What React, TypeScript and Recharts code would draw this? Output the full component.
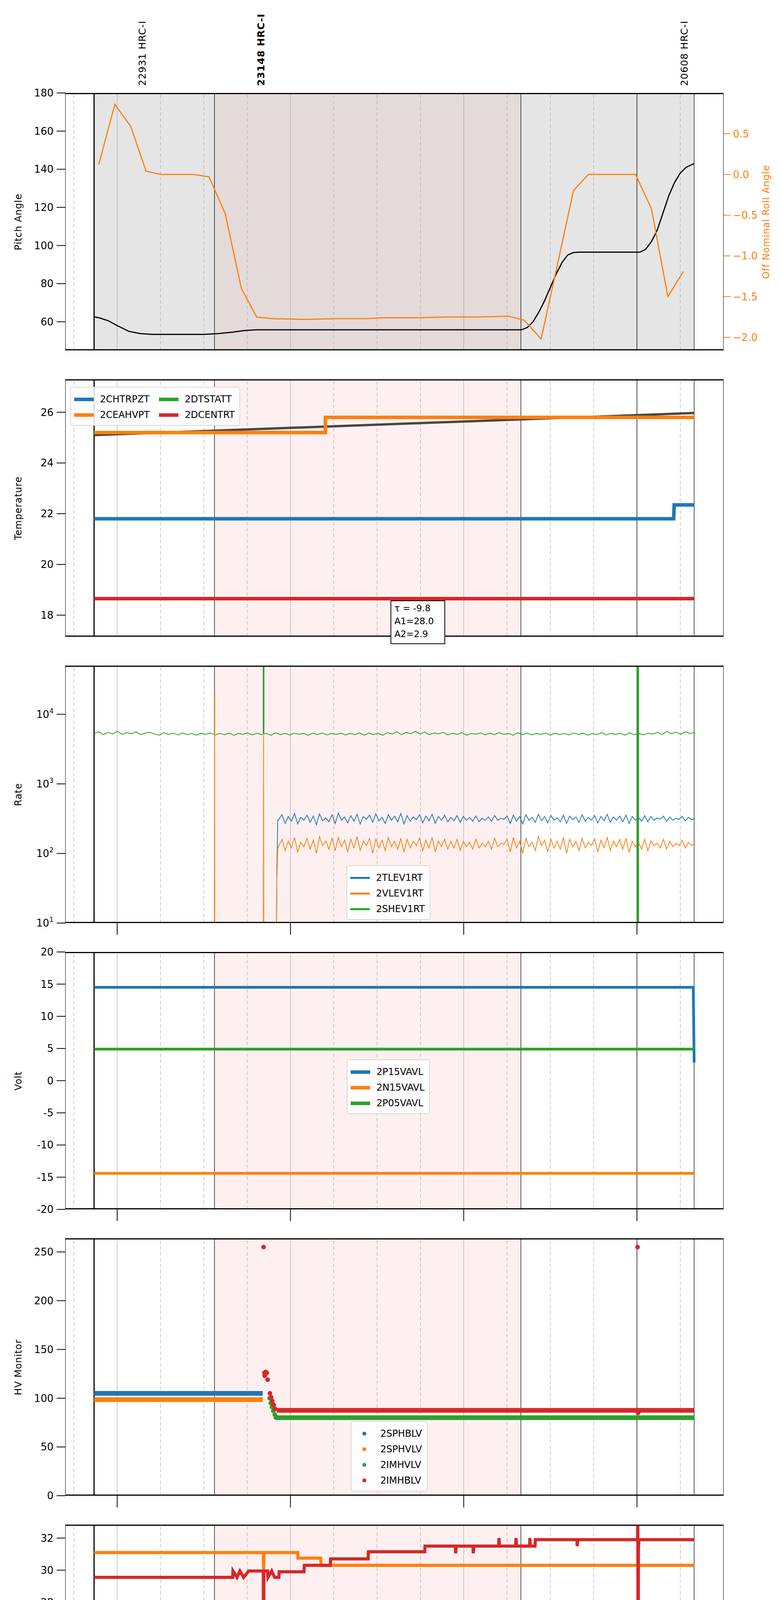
import React from 'react';
import {
  ComposedChart,
  Line,
  XAxis,
  YAxis,
  ReferenceArea,
  ReferenceLine,
} from 'recharts';

// time axis in minutes of day (2020-08-15)
const X_DOMAIN = [402, 630];
const QUARTER_TICKS = [405, 420, 435, 450, 465, 480, 495, 510, 525, 540, 555, 570, 585, 600, 615, 630];
const HOUR_LABELS: Record<number, string> = { 420: '07h', 480: '08h', 540: '09h', 600: '10h' };
const EVENT_TIMES = [412, 453.7, 559.8, 600, 619.8];
const OBS_START = 453.7;
const OBS_END = 559.8;

const C = {
  blue: '#1f77b4',
  orange: '#ff7f0e',
  green: '#2ca02c',
  red: '#d62728',
  black: '#000000',
  fit: '#4a4444',
  grid: '#aaaaaa',
  pink: '#fef0f0',
  gray: '#e5e5e5',
  brown: '#e5dada',
};

const FONT = '"DejaVu Sans", sans-serif';

// panel 1: pitch and roll
const pitch = [
  [412, 62.6], [414, 62], [417, 60.5], [420, 58], [424, 55], [428, 53.8], [432, 53.4], [450, 53.4],
  [455, 53.8], [460, 54.6], [464, 55.4], [468, 55.8], [560, 55.8], [562, 57], [564, 60], [566, 65],
  [568, 71], [570, 78], [572, 85], [574, 91], [576, 95], [578, 96.3], [580, 96.5], [601, 96.5],
  [603, 98], [605, 102], [607, 108], [609, 117], [611, 126], [613, 133], [615, 138], [617, 141], [619.8, 143],
];
const roll = [
  [413.6, 0.12], [419.2, 0.86], [424.7, 0.59], [430, 0.04], [435, 0.0], [446.5, 0.0], [451.8, -0.03],
  [457.4, -0.48], [463, -1.4], [468.3, -1.75], [473.9, -1.77], [485, -1.78], [495.6, -1.77], [506, -1.77],
  [512, -1.76], [523.3, -1.76], [533.8, -1.75], [544.2, -1.75], [555.4, -1.74], [561, -1.79], [566.8, -2.02],
  [572.5, -1.1], [578, -0.2], [583.2, 0.0], [599.5, 0.0], [605, -0.42], [610.7, -1.5], [616.1, -1.19],
];

// panel 2: temperature
const tempFit = [[412, 25.1], [619.8, 25.97]];
const ceahvpt = [[412, 25.2], [492.1, 25.2], [492.1, 25.8], [619.8, 25.8]];
const chtrpzt = [[412, 21.8], [612.7, 21.8], [612.9, 22.35], [619.8, 22.35]];
const dcentrt = [[412, 18.65], [619.8, 18.65]];

// panel 3: rates (noisy bands)
const tlevNoise = [310, 360, 270, 340, 290, 375, 265, 330, 300, 355, 280, 345, 260, 370, 295, 325, 285, 360, 270, 380,
  300, 335, 275, 350, 290, 365, 265, 340, 310, 355, 280, 370, 295, 330, 270, 360, 300, 345, 285, 375, 265, 350, 290,
  335, 305, 360, 275, 345, 295, 365, 270, 340, 300, 355, 285, 330, 295, 350, 280, 340, 300, 330, 290, 345, 285, 320,
  300, 335, 290, 350, 300, 320, 310, 345, 270, 355, 290, 340, 265, 360, 300, 330, 280, 365, 295, 340, 275, 350, 300,
  325, 285, 355, 270, 345, 305, 335, 280, 360, 290, 330, 300, 350, 275, 340, 295, 365, 280, 335, 300, 345, 285, 355,
  270, 340, 300, 330, 290, 350, 285, 340, 300, 325, 310, 345, 290, 335, 300, 320, 310, 340, 295, 330, 305, 315];
const vlevNoise = [130, 160, 110, 150, 120, 170, 105, 145, 125, 165, 115, 155, 100, 175, 130, 150, 115, 165, 110, 170,
  125, 155, 105, 160, 120, 175, 110, 150, 130, 165, 100, 160, 120, 155, 110, 170, 125, 150, 115, 165, 105, 160, 120,
  150, 130, 165, 110, 155, 120, 170, 105, 150, 125, 160, 115, 150, 120, 160, 110, 150, 125, 145, 115, 160, 120, 140,
  125, 150, 115, 165, 125, 140, 135, 160, 105, 170, 120, 150, 100, 165, 125, 145, 110, 175, 130, 155, 105, 160, 120,
  150, 115, 170, 100, 160, 125, 150, 110, 165, 120, 145, 130, 160, 105, 155, 120, 170, 110, 150, 125, 160, 115, 165,
  105, 150, 125, 145, 115, 160, 110, 150, 130, 140, 120, 160, 115, 150, 125, 140, 130, 155, 120, 145, 130, 140];
const shevNoise = [5300, 5600, 5100, 5500, 5200, 5700, 5150, 5450, 5250, 5600, 5100, 5400, 5500, 5200, 5000, 5450,
  5150, 5350, 5050, 5400, 5100, 5300, 5000, 5350, 5150, 5400, 5050, 5300, 5100, 5350, 5000, 5300, 5150, 5400, 5050,
  5350, 5100, 5300, 5000, 5400, 5100, 5300, 5050, 5350, 5150, 5300, 5000, 5350, 5100, 5400, 5050, 5300, 5150, 5350,
  5050, 5300, 5100, 5400, 5000, 5350, 5100, 5300, 5000, 5450, 5200, 5600, 5100, 5500, 5250, 5700, 5200, 5550, 5100,
  5400, 5250, 5500, 5050, 5350, 5150, 5450, 5000, 5300, 5200, 5400, 5050, 5350, 5100, 5450, 5150, 5300, 5000, 5400,
  5100, 5350, 5050, 5300, 5150, 5400, 5000, 5350, 5100, 5300, 5050, 5400, 5150, 5350, 5000, 5300, 5100, 5450, 5050,
  5300, 5150, 5350, 5000, 5400, 5100, 5300, 5050, 5350, 5200, 5500, 5100, 5650, 5250, 5550, 5150, 5600, 5300, 5450];
const tlevLead = [[475, 1], [475.3, 60], [475.6, 300]];
const vlevLead = [[453.6, 1], [453.7, 22000], [453.8, 1], [470.6, 1], [470.7, 5000], [470.8, 1], [475, 1], [475.3, 40], [475.6, 120]];
const shevSpikeA = [[453.7, 5300], [453.7, 22000]];
const shevSpikeB = [[470.7, 5300], [470.7, 80000]];
const shevSpikeC = [[600.3, 1], [600.3, 80000]];
const tlevSpike = [[600.4, 300], [600.4, 80000]];

// panel 4: volts
const p15vavl = [[412, 14.5], [619.5, 14.5], [619.8, 2.8]];
const n15vavl = [[412, -14.4], [619.8, -14.4]];
const p05vavl = [[412, 4.9], [619.8, 4.9]];

// panel 5: HV monitor
const sphblv = [[412, 105], [470.4, 105]];
const sphvlv = [[412, 98.5], [470.4, 98.5]];
const imhvlv = [[475.2, 80], [619.8, 80]];
const imhvlvPts = [[472.8, 100], [473.2, 95], [473.6, 91], [474.1, 87], [474.6, 83], [475, 80]];
const imhblv = [[475.3, 87.5], [619.8, 87.5]];
const imhblvPts = [[470.7, 255], [471, 126], [471.4, 127], [471.8, 126], [471.1, 123], [472.1, 119], [472.9, 105],
  [473.3, 101], [473.7, 97], [474.2, 93], [474.7, 89], [600.2, 255], [600.4, 85]];

// panel 6: detector temp
const spinatm = [[412, 19.6], [619.8, 19.6]];
const sphvatm = [[412, 31.1], [470.6, 31.1], [470.7, 30.0], [470.8, 31.1], [482.5, 31.1], [482.6, 30.75],
  [490.5, 30.75], [490.6, 30.3], [619.8, 30.3]];
const iminatm = [[412, 18.3], [490.3, 18.3], [490.4, 18.95], [490.8, 18.3], [491.3, 18.95], [491.8, 18.3],
  [492.5, 18.95], [493, 18.3], [493.5, 18.95], [494, 18.3], [495, 18.95], [496.5, 18.3], [497.3, 18.9],
  [600.2, 18.9], [600.3, 16.5], [600.9, 17.0], [601.2, 19.8], [601.4, 18.9], [619.8, 18.9]];
const imhvatm = [[412, 29.55], [460, 29.55], [460.1, 29.95], [461.5, 29.55], [462.5, 29.95], [463.8, 29.55],
  [465.5, 29.95], [470.6, 29.95], [470.7, 15], [470.8, 29.95], [472.1, 29.95], [472.2, 29.55], [473.5, 29.95],
  [474.5, 29.55], [476, 29.55], [476.1, 29.9], [484.7, 29.9], [484.8, 30.3], [493.8, 30.3], [493.9, 30.7],
  [506.9, 30.7], [507, 31.15], [526.5, 31.15], [526.6, 31.5], [537.1, 31.5], [537.2, 31.05], [537.4, 31.5],
  [543.2, 31.5], [543.3, 31.05], [543.5, 31.5], [552.1, 31.5], [552.2, 32], [552.4, 31.5], [558, 31.5],
  [558.1, 32], [558.3, 31.5], [562.8, 31.5], [562.9, 32], [563.1, 31.5], [564.7, 31.5], [564.8, 31.9],
  [579.2, 31.9], [579.3, 31.5], [579.5, 31.9], [600.2, 31.9], [600.3, 34], [600.4, 15], [600.5, 31.4],
  [600.7, 31.9], [619.8, 31.9]];

// panel 7: FEA temp
const fhtrmzt = [[412, 20.23], [489.2, 20.23], [489.3, 22.45], [489.6, 20.23], [559.4, 20.23], [559.5, 19.65],
  [559.7, 20.23], [609.2, 20.23], [609.3, 19.65], [609.5, 20.23], [619.8, 20.23]];
const fradpyt = [[412, 15.25], [619.8, 15.25]];
const fepratm = [[412, 22.45], [470.6, 22.45], [470.7, 20.2], [470.8, 22.45], [600.2, 22.45], [600.4, 17.0],
  [601, 19.8], [601.5, 22.45], [619.8, 22.45]];
const fe00atm = [[412, 20.15], [470.6, 20.15], [470.7, 12], [470.8, 20.15], [476.7, 20.15], [476.8, 21.12],
  [476.9, 20.15], [477.5, 20.15], [477.6, 20.51], [477.7, 20.15], [482.8, 20.15], [482.9, 19.84], [483, 20.15],
  [486.4, 20.15], [486.5, 19.84], [486.6, 20.15], [505.4, 20.15], [505.5, 19.84], [505.6, 20.15],
  [520.7, 20.15], [520.8, 20.51], [520.9, 20.15], [526.2, 20.15], [526.3, 20.51], [526.4, 20.15],
  [527.2, 20.15], [527.3, 20.51], [527.4, 20.15], [537.7, 20.15], [537.8, 20.51], [537.9, 20.15],
  [539.4, 20.15], [539.5, 20.51], [539.6, 20.15], [544.3, 20.15], [544.4, 20.51], [544.5, 20.15],
  [546.9, 20.15], [547, 20.51], [547.1, 20.15], [550.9, 20.15], [551, 20.51], [551.1, 20.15],
  [556.6, 20.15], [556.7, 20.82], [556.8, 20.15], [561.1, 20.15], [561.2, 20.51], [561.3, 20.15],
  [568.4, 20.15], [568.5, 20.51], [568.6, 19.84], [568.7, 20.15], [570.3, 20.15], [570.4, 19.52],
  [570.5, 20.15], [576.6, 20.15], [576.7, 20.82], [576.8, 20.15], [600.3, 20.15], [600.35, 26],
  [600.4, 12], [600.5, 20.15], [619.8, 20.15]];

const PANEL_TOPS = [238, 971, 1704, 2437, 3170, 3903, 4636];
const PANEL_H = 659;
const PLOT_L = 167;
const PLOT_W = 1686;
const PAD_TOP = 24;

const pts = (arr: number[][]) => arr.map(([t, v]) => ({ t, v }));
const band = (start: number, end: number, vals: number[]) =>
  vals.map((v, i) => [start + ((end - start) * i) / (vals.length - 1), v]);

function backdrop(top: boolean) {
  const els: React.ReactElement[] = [];
  if (top) {
    els.push(<ReferenceArea key="g1" yAxisId="l" x1={412} x2={OBS_START} fill={C.gray} fillOpacity={1} stroke="none" />);
    els.push(<ReferenceArea key="g2" yAxisId="l" x1={OBS_START} x2={OBS_END} fill={C.brown} fillOpacity={1} stroke="none" />);
    els.push(<ReferenceArea key="g3" yAxisId="l" x1={OBS_END} x2={619.8} fill={C.gray} fillOpacity={1} stroke="none" />);
  } else {
    els.push(<ReferenceArea key="p" yAxisId="l" x1={OBS_START} x2={OBS_END} fill={C.pink} fillOpacity={1} stroke="none" />);
  }
  QUARTER_TICKS.filter((t) => t < 630).forEach((t) => {
    const hour = t % 60 === 0;
    els.push(
      <ReferenceLine key={'q' + t} yAxisId="l" x={t} stroke={C.grid} strokeWidth={1.2} strokeDasharray={hour ? undefined : '9 6'} />
    );
  });
  EVENT_TIMES.forEach((t, i) => {
    els.push(<ReferenceLine key={'e' + t} yAxisId="l" x={t} stroke={C.black} strokeWidth={i === 0 ? 3 : 1.3} />);
  });
  return els;
}

const HourTick = (props: any) => {
  const { x, y, payload } = props;
  if (payload.value % 60 !== 0) return null;
  return <line x1={x} x2={x} y1={y} y2={y + 30} stroke="#000" strokeWidth={2} />;
};

const LabelTick = (props: any) => {
  const { x, y, payload } = props;
  const v = payload.value;
  if (v % 60 === 0) {
    return (
      <g>
        <line x1={x} x2={x} y1={y} y2={y + 30} stroke="#000" strokeWidth={2} />
        <text x={x} y={y + 58} textAnchor="middle" fontSize={24} fontFamily={FONT} fill="#000">
          {HOUR_LABELS[v]}
        </text>
      </g>
    );
  }
  return (
    <text x={x} y={y + 21} textAnchor="middle" fontSize={16} fontFamily={FONT} fill="#000">
      {String(v % 60)}
    </text>
  );
};

const PowTick = (props: any) => {
  const { x, y, payload } = props;
  const exp = Math.round(Math.log10(payload.value));
  return (
    <text x={x} y={y + 9} textAnchor="end" fontSize={26} fontFamily={FONT} fill="#000">
      10<tspan fontSize={17} dy={-12}>{exp}</tspan>
    </text>
  );
};

const tickStyle = { fontSize: 26, fontFamily: FONT, fill: '#000' };
const tickLineStyle = { stroke: '#000', strokeWidth: 2 };

interface PanelProps {
  index: number;
  yDomain: number[];
  yTicks: number[];
  log?: boolean;
  axis?: 'none' | 'hours' | 'labels';
  right?: boolean;
  children: React.ReactNode;
}

function Panel({ index, yDomain, yTicks, log, axis = 'hours', right, children }: PanelProps) {
  const xh = axis === 'labels' ? 80 : axis === 'hours' ? 34 : 0;
  return (
    <div style={{ position: 'absolute', left: 0, top: PANEL_TOPS[index] - PAD_TOP }}>
      <ComposedChart
        width={2000}
        height={PANEL_H + xh + PAD_TOP + (axis === 'none' ? 10 : 0)}
        margin={{
          top: PAD_TOP,
          bottom: axis === 'none' ? 10 : 0,
          left: PLOT_L - 60,
          right: right ? 2000 - PLOT_L - PLOT_W - 60 : 2000 - PLOT_L - PLOT_W,
        }}
      >
        <XAxis
          type="number"
          dataKey="t"
          domain={X_DOMAIN}
          allowDataOverflow
          ticks={QUARTER_TICKS}
          interval={0}
          hide={axis === 'none'}
          height={xh}
          axisLine={false}
          tickLine={false}
          tickSize={0}
          tickMargin={0}
          tick={axis === 'labels' ? <LabelTick /> : <HourTick />}
        />
        <YAxis
          yAxisId="l"
          type="number"
          width={60}
          domain={yDomain}
          ticks={yTicks}
          interval={0}
          allowDataOverflow
          scale={log ? 'log' : 'auto'}
          axisLine={false}
          tickSize={22}
          tickMargin={8}
          tickLine={tickLineStyle}
          tick={log ? <PowTick /> : tickStyle}
        />
        {right && (
          <YAxis
            yAxisId="r"
            orientation="right"
            type="number"
            width={60}
            domain={[-2.16, 1.0]}
            ticks={[0.5, 0, -0.5, -1, -1.5, -2]}
            interval={0}
            allowDataOverflow
            axisLine={false}
            tickSize={18}
            tickMargin={6}
            tickLine={{ stroke: C.orange, strokeWidth: 2 }}
            tick={{ ...tickStyle, fill: C.orange }}
            tickFormatter={(v: number) => v.toFixed(1).replace('-', '\u2212')}
          />
        )}
        {backdrop(!!right)}
        {children}
      </ComposedChart>
    </div>
  );
}

function series(data: number[][], color: string, width: number, key: string, yAxisId = 'l') {
  return (
    <Line
      key={key}
      yAxisId={yAxisId}
      data={pts(data)}
      dataKey="v"
      type="linear"
      stroke={color}
      strokeWidth={width}
      dot={false}
      isAnimationActive={false}
      strokeLinecap="butt"
    />
  );
}

function dots(data: number[][], color: string, key: string) {
  return (
    <Line
      key={key}
      yAxisId="l"
      data={pts(data)}
      dataKey="v"
      stroke="none"
      dot={{ r: 6, fill: color, stroke: 'none' }}
      isAnimationActive={false}
    />
  );
}

interface LegendProps {
  items: { name: string; color: string }[];
  left: number;
  top: number;
  cols?: number;
  marker?: 'line' | 'dot';
  lineW?: number;
}

function Legend({ items, left, top, cols = 1, marker = 'line', lineW = 9 }: LegendProps) {
  return (
    <div
      style={{
        position: 'absolute',
        left,
        top,
        background: 'rgba(255,255,255,0.85)',
        border: '2px solid #d8d8d8',
        borderRadius: 6,
        padding: '10px 12px 6px 8px',
        display: 'grid',
        gridTemplateColumns: `repeat(${cols}, auto)`,
        gridAutoFlow: cols > 1 ? 'column' : 'row',
        gridTemplateRows: cols > 1 ? `repeat(${Math.ceil(items.length / cols)}, auto)` : undefined,
        columnGap: 24,
        fontFamily: FONT,
        fontSize: 24,
      }}
    >
      {items.map((it) => (
        <div key={it.name} style={{ display: 'flex', alignItems: 'center', height: 40 }}>
          {marker === 'line' ? (
            <span style={{ width: 50, height: lineW, background: it.color, marginRight: 16, display: 'inline-block' }} />
          ) : (
            <span style={{ width: 50, display: 'inline-flex', justifyContent: 'center', marginRight: 16 }}>
              <span style={{ width: 10, height: 10, borderRadius: 5, background: it.color, display: 'inline-block' }} />
            </span>
          )}
          <span>{it.name}</span>
        </div>
      ))}
    </div>
  );
}

const YLABELS = ['Pitch Angle', 'Temperature', 'Rate', 'Volt', 'HV Monitor', 'Detector Temp', 'FEA Temp'];

function RotLabel({ text, x, y, color = '#000', size = 24, bold = false, anchorBottom = false }: any) {
  return (
    <div
      style={{
        position: 'absolute',
        left: x,
        top: y,
        transform: anchorBottom ? 'rotate(-90deg)' : 'translate(-50%, -50%) rotate(-90deg)',
        transformOrigin: anchorBottom ? '0 0' : 'center',
        whiteSpace: 'nowrap',
        fontFamily: FONT,
        fontSize: size,
        fontWeight: bold ? 'bold' : 'normal',
        color,
        letterSpacing: 1,
        lineHeight: 1,
      }}
    >
      {text}
    </div>
  );
}

export default function App() {
  return (
    <div style={{ position: 'relative', margin: -8, width: 2000, height: 5400, background: '#fff', overflow: 'hidden' }}>
      <Panel index={0} yDomain={[45, 180]} yTicks={[60, 80, 100, 120, 140, 160, 180]} axis="none" right>
        {series(pitch, C.black, 3, 'pitch')}
        {series(roll, C.orange, 3, 'roll', 'r')}
      </Panel>

      <Panel index={1} yDomain={[17.15, 27.3]} yTicks={[18, 20, 22, 24, 26]} axis="none">
        {series(tempFit, C.fit, 6, 'fit')}
        {series(ceahvpt, C.orange, 9, 'ceah')}
        {series(chtrpzt, C.blue, 9, 'chtr')}
        {series(dcentrt, C.red, 9, 'dcen')}
      </Panel>

      <Panel index={2} yDomain={[10, 50000]} yTicks={[10, 100, 1000, 10000]} log>
        {series(band(412, 620, shevNoise), C.green, 2, 'shev')}
        {series(shevSpikeA, C.green, 3, 'shevA')}
        {series([...tlevLead, ...band(476, 620, tlevNoise)], C.blue, 2, 'tlev')}
        {series(tlevSpike, C.blue, 3, 'tlevs')}
        {series([...vlevLead, ...band(476, 620, vlevNoise)], C.orange, 2, 'vlev')}
        {series(shevSpikeB, C.green, 4, 'shevB')}
        {series(shevSpikeC, C.green, 6, 'shevC')}
      </Panel>

      <Panel index={3} yDomain={[-20, 20]} yTicks={[-20, -15, -10, -5, 0, 5, 10, 15, 20]}>
        {series(p15vavl, C.blue, 7, 'p15')}
        {series(n15vavl, C.orange, 7, 'n15')}
        {series(p05vavl, C.green, 7, 'p05')}
      </Panel>

      <Panel index={4} yDomain={[0, 264]} yTicks={[0, 50, 100, 150, 200, 250]}>
        {series(sphblv, C.blue, 12, 'sphb')}
        {series(sphvlv, C.orange, 12, 'sphv')}
        {series(imhvlv, C.green, 12, 'imhv')}
        {dots(imhvlvPts, C.green, 'imhvd')}
        {series(imhblv, C.red, 12, 'imhb')}
        {dots(imhblvPts, C.red, 'imhbd')}
      </Panel>

      <Panel index={5} yDomain={[16.79, 32.84]} yTicks={[18, 20, 22, 24, 26, 28, 30, 32]}>
        {series(spinatm, C.blue, 8, 'spin')}
        {series(sphvatm, C.orange, 8, 'sphv6')}
        {series(iminatm, C.green, 8, 'imin')}
        {series(imhvatm, C.red, 8, 'imhv6')}
      </Panel>

      <Panel index={6} yDomain={[13.74, 23.79]} yTicks={[14, 16, 18, 20, 22]} axis="labels">
        {series(fhtrmzt, C.blue, 7, 'fhtr')}
        {series(fradpyt, C.orange, 8, 'frad')}
        {series(fepratm, C.green, 8, 'fepr')}
        {series(fe00atm, C.red, 7, 'fe00')}
      </Panel>

      {PANEL_TOPS.map((top) => (
        <div
          key={top}
          style={{
            position: 'absolute',
            left: PLOT_L,
            top,
            width: PLOT_W,
            height: PANEL_H,
            boxSizing: 'border-box',
            borderTop: '3px solid #000',
            borderBottom: '3px solid #000',
            borderLeft: '1.5px solid #000',
            borderRight: '1.5px solid #000',
            pointerEvents: 'none',
          }}
        />
      ))}

      {YLABELS.map((t, i) => (
        <RotLabel key={t} text={t} x={47} y={PANEL_TOPS[i] + PANEL_H / 2} />
      ))}
      <RotLabel text="Off Nominal Roll Angle" x={1962} y={PANEL_TOPS[0] + PANEL_H / 2} color={C.orange} />

      <RotLabel text="22931 HRC-I" x={352} y={220} size={25} anchorBottom />
      <RotLabel text="23148 HRC-I" x={656} y={220} size={25} bold anchorBottom />
      <RotLabel text="20608 HRC-I" x={1740} y={220} size={25} anchorBottom />

      <Legend
        left={180}
        top={990}
        cols={2}
        items={[
          { name: '2CHTRPZT', color: C.blue },
          { name: '2CEAHVPT', color: C.orange },
          { name: '2DTSTATT', color: C.green },
          { name: '2DCENTRT', color: C.red },
        ]}
      />
      <div
        style={{
          position: 'absolute',
          left: 1000,
          top: 1537,
          width: 140,
          height: 112,
          boxSizing: 'border-box',
          border: '2px solid #000',
          background: '#fff',
          fontFamily: FONT,
          fontSize: 23,
          lineHeight: '33px',
          padding: '2px 8px',
        }}
      >
        <div>τ = -9.8</div>
        <div>A1=28.0</div>
        <div>A2=2.9</div>
      </div>

      <Legend
        left={887}
        top={2215}
        lineW={5}
        items={[
          { name: '2TLEV1RT', color: C.blue },
          { name: '2VLEV1RT', color: C.orange },
          { name: '2SHEV1RT', color: C.green },
        ]}
      />
      <Legend
        left={888}
        top={2712}
        lineW={9}
        items={[
          { name: '2P15VAVL', color: C.blue },
          { name: '2N15VAVL', color: C.orange },
          { name: '2P05VAVL', color: C.green },
        ]}
      />
      <Legend
        left={898}
        top={3638}
        marker="dot"
        items={[
          { name: '2SPHBLV', color: C.blue },
          { name: '2SPHVLV', color: C.orange },
          { name: '2IMHVLV', color: C.green },
          { name: '2IMHBLV', color: C.red },
        ]}
      />
      <Legend
        left={885}
        top={4140}
        items={[
          { name: '2SPINATM', color: C.blue },
          { name: '2SPHVATM', color: C.orange },
          { name: '2IMINATM', color: C.green },
          { name: '2IMHVATM', color: C.red },
        ]}
      />
      <Legend
        left={180}
        top={4872}
        items={[
          { name: '2FHTRMZT', color: C.blue },
          { name: '2FRADPYT', color: C.orange },
          { name: '2FEPRATM', color: C.green },
          { name: '2FE00ATM', color: C.red },
        ]}
      />

      <div
        style={{
          position: 'absolute',
          left: 1008,
          top: 5381,
          transform: 'translate(-50%, -50%)',
          fontFamily: FONT,
          fontSize: 29,
          whiteSpace: 'nowrap',
        }}
      >
        2020-08-15 (228)
      </div>
    </div>
  );
}
